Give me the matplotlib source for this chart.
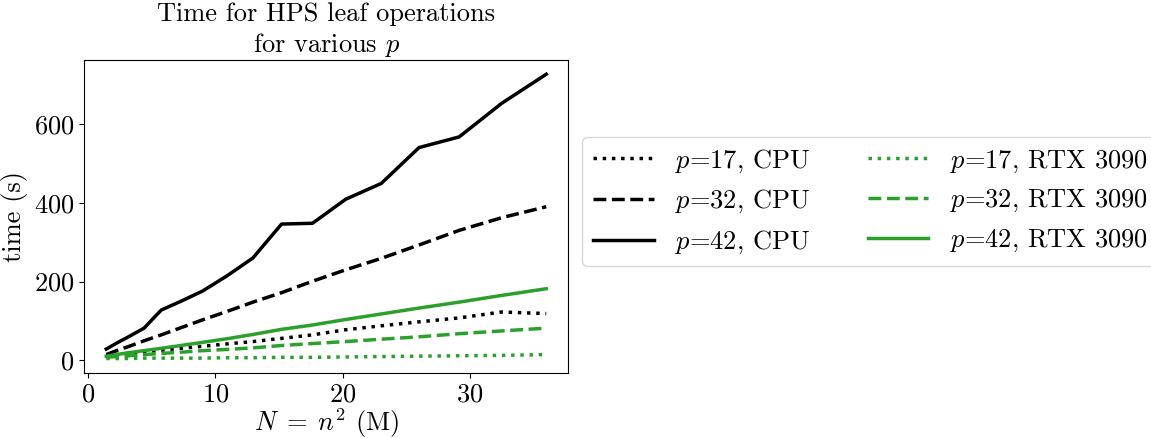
import matplotlib

matplotlib.use("Agg")
import matplotlib.pyplot as plt

# Computer Modern look without a LaTeX install
plt.rcParams["font.family"] = "serif"
plt.rcParams["font.serif"] = ["cmr10", "DejaVu Serif"]
plt.rcParams["mathtext.fontset"] = "cm"
plt.rcParams["axes.formatter.use_mathtext"] = True

# grid sizes n = 1200 .. 6000, N = n^2 in millions
N = [1.44, 2.25, 3.24, 4.41, 5.76, 7.29, 9.0, 10.89, 12.96, 15.21,
     17.64, 20.25, 23.04, 26.01, 29.16, 32.49, 36.0]

cpu_p17 = [12, 15, 18, 22, 26, 31, 36, 42, 48, 56, 65, 78, 88, 98, 108, 123, 119]
cpu_p32 = [15, 25, 36, 50, 65, 83, 103, 124, 148, 172, 201, 230, 259, 293, 330, 362, 390]
cpu_p42 = [29, 44, 61, 82, 128, 150, 176, 214, 260, 346, 348, 409, 449, 540, 567, 652, 726]

gpu_p17 = [5, 5, 5, 6, 6, 6, 6, 7, 7, 8, 8, 9, 10, 11, 12, 13, 15]
gpu_p32 = [8, 10, 12, 15, 18, 21, 25, 28, 32, 38, 43, 48, 54, 60, 68, 75, 82]
gpu_p42 = [11, 15, 20, 25, 31, 38, 46, 55, 66, 79, 90, 104, 118, 133, 148, 165, 182]

fig = plt.figure(figsize=(11.51, 4.38), dpi=100)
ax = fig.add_axes([0.0732, 0.149, 0.4205, 0.714])

lw = 2.5
ax.plot(N, cpu_p17, color="black", linestyle=":", linewidth=lw, label=r"$p$=17, CPU")
ax.plot(N, cpu_p32, color="black", linestyle="--", linewidth=lw, label=r"$p$=32, CPU")
ax.plot(N, cpu_p42, color="black", linestyle="-", linewidth=lw, label=r"$p$=42, CPU")
ax.plot(N, gpu_p17, color="tab:green", linestyle=":", linewidth=lw, label=r"$p$=17, RTX 3090")
ax.plot(N, gpu_p32, color="tab:green", linestyle="--", linewidth=lw, label=r"$p$=32, RTX 3090")
ax.plot(N, gpu_p42, color="tab:green", linestyle="-", linewidth=lw, label=r"$p$=42, RTX 3090")

ax.set_xticks([0, 10, 20, 30])
ax.set_yticks([0, 200, 400, 600])
ax.tick_params(labelsize=19)

ax.set_title("Time for HPS leaf operations\nfor various $p$", fontsize=19)
ax.set_xlabel(r"$N\;=\;n^2$ (M)", fontsize=19, labelpad=0)
ax.set_ylabel("time (s)", fontsize=19, labelpad=4)

# legend sits outside the axes, to the right
ax.legend(loc="center left", bbox_to_anchor=(1.029, 0.547), borderaxespad=0,
          ncol=2, fontsize=19, handlelength=2.3, columnspacing=2.2)

fig.savefig("out.png", dpi=100)
